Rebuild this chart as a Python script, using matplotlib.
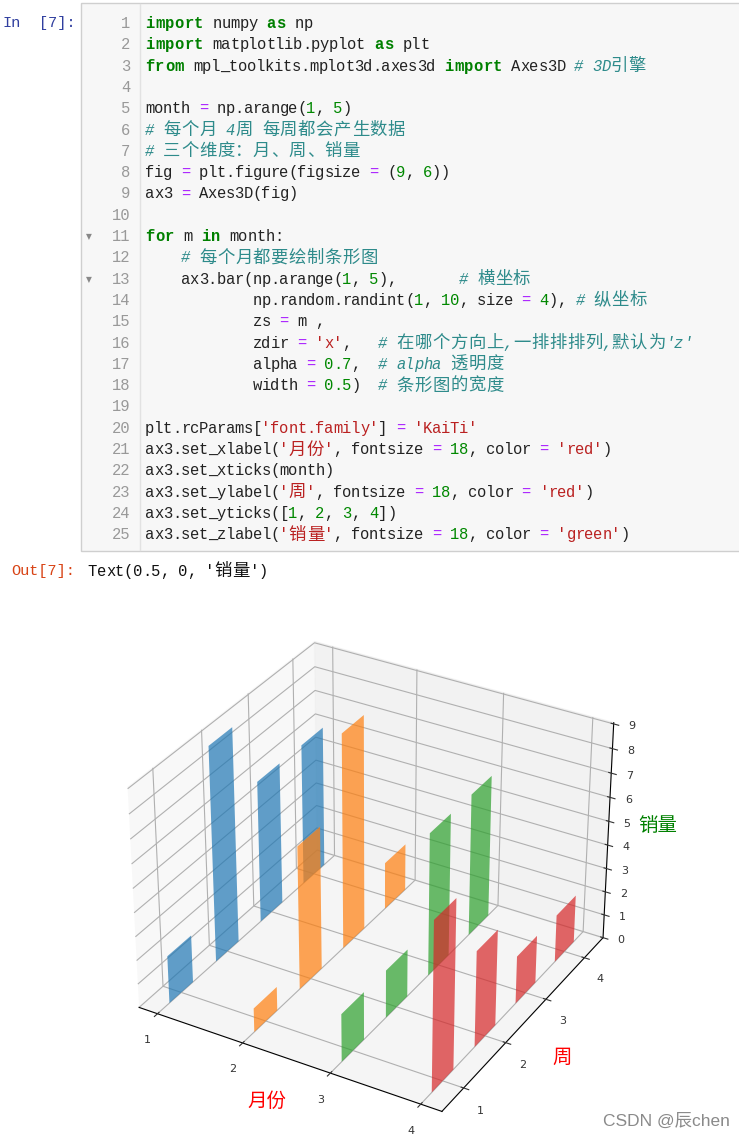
import numpy as np
import matplotlib
matplotlib.use('Agg')
import matplotlib.pyplot as plt
from matplotlib.patches import Rectangle
from mpl_toolkits.mplot3d import Axes3D

CJK = 'Noto Sans CJK SC'
MONO = 'Liberation Mono'

weeks = [1, 2, 3, 4]
months = [1, 2, 3, 4]
sales = [
    [2, 9, 6, 6],
    [1, 6, 9, 2],
    [2, 2, 6, 6],
    [7, 4, 2, 2],
]
colors = ['C0', 'C1', 'C2', 'C3']
z_ticks = [0, 1, 2, 3, 4, 5, 6, 7, 8, 9]

# token kinds: k keyword, n plain, o operator, d number, s string, c comment
code_lines = [
    [('import', 'k'), (' numpy ', 'n'), ('as', 'k'), (' np', 'n')],
    [('import', 'k'), (' matplotlib.pyplot ', 'n'), ('as', 'k'), (' plt', 'n')],
    [('from', 'k'), (' mpl_toolkits.mplot3d.axes3d ', 'n'), ('import', 'k'), (' Axes3D ', 'n'), ('# 3D引擎', 'c')],
    [],
    [('month ', 'n'), ('=', 'o'), (' np.arange(', 'n'), ('1', 'd'), (', ', 'n'), ('5', 'd'), (')', 'n')],
    [('# 每个月 4周 每周都会产生数据', 'c')],
    [('# 三个维度：月、周、销量', 'c')],
    [('fig ', 'n'), ('=', 'o'), (' plt.figure(figsize ', 'n'), ('=', 'o'), (' (', 'n'), ('9', 'd'), (', ', 'n'), ('6', 'd'), ('))', 'n')],
    [('ax3 ', 'n'), ('=', 'o'), (' Axes3D(fig)', 'n')],
    [],
    [('for', 'k'), (' m ', 'n'), ('in', 'k'), (' month:', 'n')],
    [('    ', 'n'), ('# 每个月都要绘制条形图', 'c')],
    [('    ax3.bar(np.arange(', 'n'), ('1', 'd'), (', ', 'n'), ('5', 'd'), ('),       ', 'n'), ('# 横坐标', 'c')],
    [('            np.random.randint(', 'n'), ('1', 'd'), (', ', 'n'), ('10', 'd'), (', size ', 'n'), ('=', 'o'), (' ', 'n'), ('4', 'd'), ('), ', 'n'), ('# 纵坐标', 'c')],
    [('            zs ', 'n'), ('=', 'o'), (' m ,', 'n')],
    [('            zdir ', 'n'), ('=', 'o'), (' ', 'n'), ("'x'", 's'), (',   ', 'n'), ("# 在哪个方向上,一排排排列,默认为'z'", 'c')],
    [('            alpha ', 'n'), ('=', 'o'), (' ', 'n'), ('0.7', 'd'), (',  ', 'n'), ('# alpha 透明度', 'c')],
    [('            width ', 'n'), ('=', 'o'), (' ', 'n'), ('0.5', 'd'), (')  ', 'n'), ('# 条形图的宽度', 'c')],
    [],
    [("plt.rcParams[", 'n'), ("'font.family'", 's'), ('] ', 'n'), ('=', 'o'), (' ', 'n'), ("'KaiTi'", 's')],
    [('ax3.set_xlabel(', 'n'), ("'月份'", 's'), (', fontsize ', 'n'), ('=', 'o'), (' ', 'n'), ('18', 'd'), (', color ', 'n'), ('=', 'o'), (' ', 'n'), ("'red'", 's'), (')', 'n')],
    [('ax3.set_xticks(month)', 'n')],
    [('ax3.set_ylabel(', 'n'), ("'周'", 's'), (', fontsize ', 'n'), ('=', 'o'), (' ', 'n'), ('18', 'd'), (', color ', 'n'), ('=', 'o'), (' ', 'n'), ("'red'", 's'), (')', 'n')],
    [('ax3.set_yticks([', 'n'), ('1', 'd'), (', ', 'n'), ('2', 'd'), (', ', 'n'), ('3', 'd'), (', ', 'n'), ('4', 'd'), ('])', 'n')],
    [('ax3.set_zlabel(', 'n'), ("'销量'", 's'), (', fontsize ', 'n'), ('=', 'o'), (' ', 'n'), ('18', 'd'), (', color ', 'n'), ('=', 'o'), (' ', 'n'), ("'green'", 's'), (')', 'n')],
]
fold_lines = [11, 13]
out_text = "Text(0.5, 0, '销量')"

kind_color = {'k': '#008000', 'n': '#222222', 'o': '#AA22FF', 'd': '#008800',
              's': '#BA2121', 'c': '#2E8B8B'}

W, H = 739, 1138
fig = plt.figure(figsize=(W / 100, H / 100), dpi=100)

# notebook page, drawn in pixel coordinates
page = fig.add_axes([0, 0, 1, 1])
page.set_xlim(0, W)
page.set_ylim(H, 0)
page.axis('off')

page.add_patch(Rectangle((81, 3), 670, 548, fc='#F7F7F7', ec='#CFCFCF', lw=1))
page.plot([140, 140], [4, 550], color='#E2E2E2', lw=1)


def is_cjk(ch):
    return ord(ch) > 0x2E80


def put_text(x, y, text, kind):
    # one run at a time so the column grid stays like the monospaced original
    color = kind_color[kind]
    weight = 'bold' if kind == 'k' else 'normal'
    style = 'italic' if kind == 'c' else 'normal'
    step = 9.75 if kind == 'k' else 8.97
    for ch in text:
        if is_cjk(ch):
            page.text(x + 8.97, y, ch, family=CJK, fontsize=12.5, color=color,
                      ha='center', va='center')
            x += 2 * 8.97
        else:
            if ch != ' ':
                page.text(x + step / 2, y, ch, family=MONO, fontsize=11.2, color=color,
                          weight=weight, style=style, ha='center', va='center')
            x += step
    return x


line_y = 23.5
line_step = 21.3
for i, tokens in enumerate(code_lines):
    y = line_y + i * line_step
    page.text(130, y, str(i + 1), family=MONO, fontsize=11.2, color='#999999',
              ha='right', va='center')
    x = 145
    for text, kind in tokens:
        x = put_text(x, y, text, kind)

for n in fold_lines:
    page.text(89, line_y + (n - 1) * line_step, '▼', fontsize=5.5, color='#888888',
              ha='center', va='center')

page.text(2, 23, 'In', family=MONO, fontsize=11, color='#303F9F', va='center')
page.text(39, 23, '[7]:', family=MONO, fontsize=11, color='#303F9F', va='center')
page.text(11, 571, 'Out[7]:', family=MONO, fontsize=11, color='#D84315', va='center')
put_x = 88
for ch in out_text:
    if is_cjk(ch):
        page.text(put_x + 9, 571, ch, family=CJK, fontsize=12.5, color='#111111',
                  ha='center', va='center')
        put_x += 18
    else:
        page.text(put_x + 4.5, 571, ch, family=MONO, fontsize=11.2, color='#111111',
                  ha='center', va='center')
        put_x += 9

page.text(730, 1121, 'CSDN @辰chen', family=['Liberation Sans', CJK], fontsize=12.5,
          color='#8a8a8a', ha='right', va='center')

# the 3D chart
side = 538
left = 99
top = 604
ax3 = fig.add_axes([left / W, 1 - (top + side) / H, side / W, side / H],
                   projection='3d')
ax3.patch.set_alpha(0)
ax3.view_init(elev=32, azim=-60)
ax3.set_box_aspect((4, 4, 2.95), zoom=1.0)

for m, heights, c in zip(months, sales, colors):
    ax3.bar(weeks, heights, zs=m, zdir='x', alpha=0.7, width=0.5, color=c)

ax3.set_xlim(0.78, 4.23)
ax3.set_ylim(0.5, 4.5)
ax3.set_zlim(0, 9.05)
ax3.set_xticks(months)
ax3.set_yticks(weeks)
ax3.set_zticks(z_ticks)
ax3.tick_params(labelsize=8, colors='#333333', pad=3)
ax3.tick_params(axis='z', pad=0)

ax3.set_xlabel('月份', fontsize=14, color='red', family=CJK, labelpad=1)
ax3.set_ylabel('周', fontsize=14, color='red', family=CJK, labelpad=3)
ax3.set_zlabel('销量', fontsize=14, color='green', family=CJK, labelpad=1)

fig.savefig('out.png', dpi=100)
